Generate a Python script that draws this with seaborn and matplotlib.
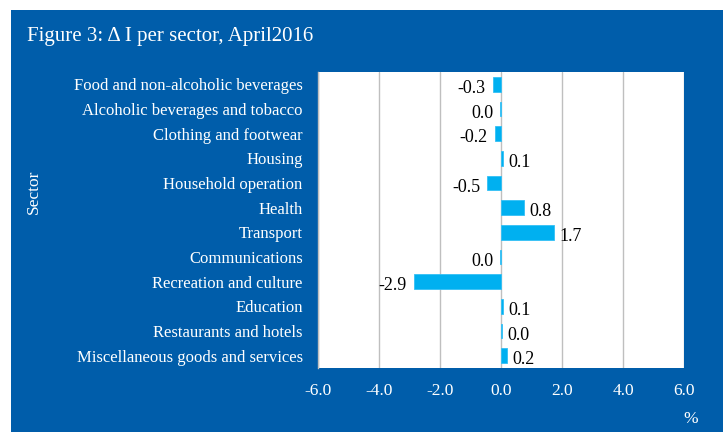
import matplotlib
matplotlib.use("Agg")
import matplotlib.pyplot as plt
from matplotlib.patches import Rectangle
import seaborn as sns
import pandas as pd

sectors = ["Food and non-alcoholic beverages", "Alcoholic beverages and tobacco",
           "Clothing and footwear", "Housing", "Household operation", "Health",
           "Transport", "Communications", "Recreation and culture", "Education",
           "Restaurants and hotels", "Miscellaneous goods and services"]
values = [-0.27, -0.03, -0.2, 0.06, -0.45, 0.74, 1.73, -0.03, -2.86, 0.06, 0.04, 0.2]
value_labels = ["-0.3", "0.0", "-0.2", "0.1", "-0.5", "0.8", "1.7", "0.0", "-2.9", "0.1", "0.0", "0.2"]
x_ticks = [-6, -4, -2, 0, 2, 4, 6]
x_tick_labels = ["-6.0", "-4.0", "-2.0", "0.0", "2.0", "4.0", "6.0"]

BLUE = "#005DAA"
BAR = "#00B0F0"
SERIF = ["Liberation Serif", "DejaVu Serif"]

sns.set_theme(style="white")
plt.rcParams["font.family"] = SERIF

df = pd.DataFrame({"sector": sectors, "value": values})

fig = plt.figure(figsize=(7.23, 4.32), dpi=100)
fig.patch.set_facecolor("white")
fig.patches.append(Rectangle((11 / 723, 0), 1 - 11 / 723, 1 - 10 / 432,
                             transform=fig.transFigure, facecolor=BLUE,
                             edgecolor="none", zorder=-10))

ax = fig.add_axes([318 / 723, 64 / 432, 366 / 723, 296 / 432])
ax.set_zorder(1)
ax.set_facecolor("white")
sns.barplot(data=df, y="sector", x="value", orient="h", color=BAR,
            width=0.6, saturation=1, edgecolor="#33C0F5", linewidth=0.6, ax=ax, zorder=3)

ax.set_xlim(-6, 6)
ax.set_ylim(len(sectors) - 0.5, -0.5)
ax.set_xticks(x_ticks)
ax.set_xticklabels(x_tick_labels, color="white", fontsize=12.5)
ax.tick_params(axis="x", length=3, color="#BFBFBF", width=1, pad=8, direction="out")
ax.tick_params(axis="y", length=0, pad=11)
for lab in ax.get_yticklabels():
    lab.set_color("white")
    lab.set_fontsize(12)
ax.xaxis.grid(True, color="#BFBFBF", linewidth=1)
ax.set_axisbelow(True)
for s in ["top", "right", "bottom"]:
    ax.spines[s].set_visible(False)
ax.spines["left"].set_color("#BFBFBF")
ax.spines["left"].set_linewidth(1)
ax.set_xlabel("")
ax.set_ylabel("")

for i, (v, lab) in enumerate(zip(values, value_labels)):
    if v < 0:
        ax.annotate(lab, (v, i), xytext=(-5, -3), textcoords="offset points",
                    ha="right", va="center", fontsize=13, color="black", zorder=5)
    else:
        ax.annotate(lab, (v, i), xytext=(4, -3), textcoords="offset points",
                    ha="left", va="center", fontsize=13, color="black", zorder=5)

fig.text(27 / 723, 1 - 36 / 432, "Figure 3: \u0394 I per sector, April2016",
         color="white", fontsize=15, ha="left", va="center")
fig.text(34 / 723, 1 - 192 / 432, "Sector", color="white", fontsize=12.5,
         rotation=90, ha="center", va="center")
fig.text(691 / 723, 1 - 419 / 432, "%", color="white", fontsize=12.5,
         ha="center", va="center")

fig.savefig("out.png", dpi=100, facecolor=fig.get_facecolor())
